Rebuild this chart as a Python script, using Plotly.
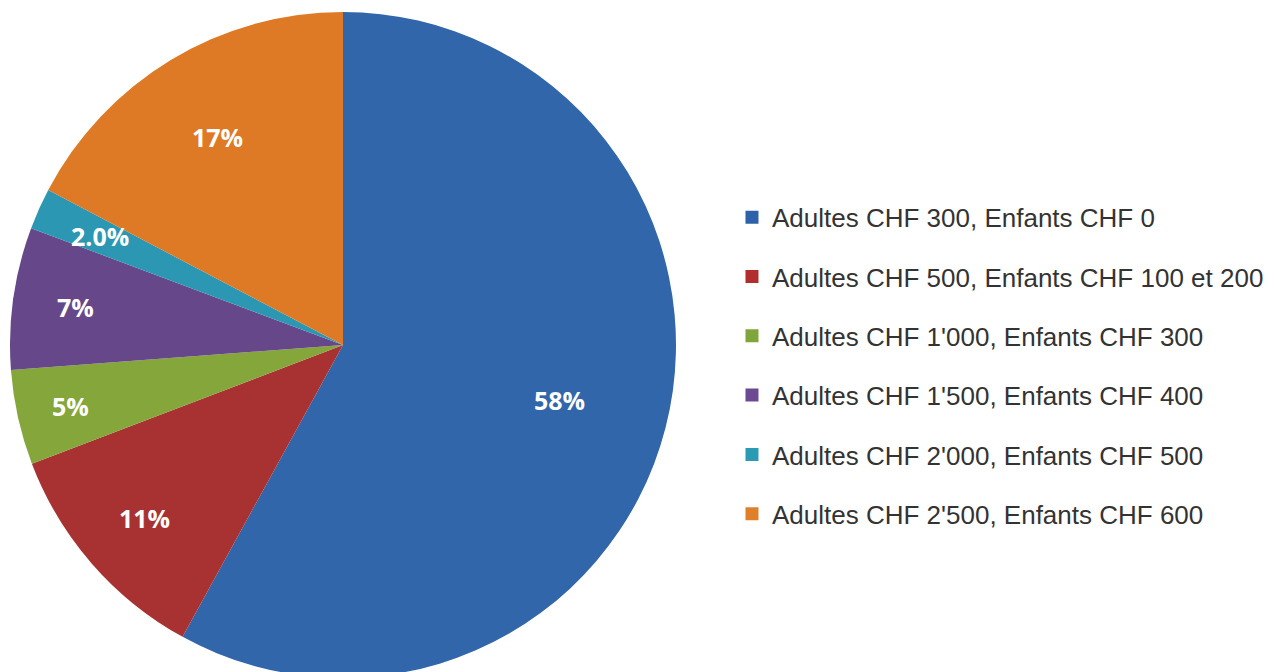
import math
import plotly.graph_objects as go

labels = [
    "Adultes CHF 300, Enfants CHF 0",
    "Adultes CHF 500, Enfants CHF 100 et 200",
    "Adultes CHF 1'000, Enfants CHF 300",
    "Adultes CHF 1'500, Enfants CHF 400",
    "Adultes CHF 2'000, Enfants CHF 500",
    "Adultes CHF 2'500, Enfants CHF 600",
]
values = [58.0, 11.2, 4.6, 6.9, 2.0, 17.3]
text_labels = ["58%", "11%", "5%", "7%", "2.0%", "17%"]
slice_colors = ["#3166aa", "#a83232", "#84a63a", "#66478a", "#2c97b2", "#de7a25"]
legend_colors = ["#2e62a8", "#b22e2e", "#80a53b", "#6b4a93", "#2b9ab5", "#e07f2a"]
# style: radial placement of each slice label, as a fraction of the radius
label_radius = [0.67, 0.79, 0.84, 0.81, 0.80, 0.73]

W, H = 1278, 672
M_L, M_R, M_T, M_B = 0, 0, 4, 2
plot_w = W - M_L - M_R
plot_h = H - M_T - M_B
dom_x = [2 / plot_w, 668 / plot_w]
dom_y = [0, 1]

fig = go.Figure()
fig.add_trace(go.Pie(
    labels=labels,
    values=values,
    textinfo="none",
    marker=dict(colors=slice_colors, line=dict(width=0)),
    sort=False,
    direction="clockwise",
    rotation=0,
    showlegend=False,
    domain=dict(x=dom_x, y=dom_y),
    hoverinfo="label+percent",
))

# slice labels placed along each slice's mid-angle (derived from the values)
cx = (dom_x[0] + dom_x[1]) / 2
cy = (dom_y[0] + dom_y[1]) / 2
R_px = min((dom_x[1] - dom_x[0]) * plot_w, (dom_y[1] - dom_y[0]) * plot_h) / 2
total = sum(values)
cum = 0.0
for v, t, lr in zip(values, text_labels, label_radius):
    mid = (cum + v / 2) / total * 2 * math.pi
    cum += v
    dx = math.sin(mid) * R_px * lr
    dy = math.cos(mid) * R_px * lr
    fig.add_annotation(
        x=cx + dx / plot_w, y=cy + dy / plot_h, xref="paper", yref="paper",
        xanchor="center", yanchor="middle",
        text=t, showarrow=False,
        font=dict(family="Open Sans", size=25, color="white", weight="bold"),
    )

for name, col in zip(labels, legend_colors):
    fig.add_trace(go.Scatter(
        x=[None], y=[None], mode="markers",
        marker=dict(symbol="square", size=13, color=col),
        name=name, legendgroup=name, showlegend=True,
    ))

fig.update_layout(
    width=W, height=H,
    margin=dict(l=M_L, r=M_R, t=M_T, b=M_B),
    paper_bgcolor="white", plot_bgcolor="white",
    xaxis=dict(visible=False), yaxis=dict(visible=False),
    legend=dict(
        x=0.5665, xanchor="left", y=0.727, yanchor="top",
        traceorder="grouped", tracegroupgap=22.5,
        font=dict(family="Liberation Sans", size=26, color="#333333"),
        itemwidth=30,
    ),
)

fig.write_html("out.html")
